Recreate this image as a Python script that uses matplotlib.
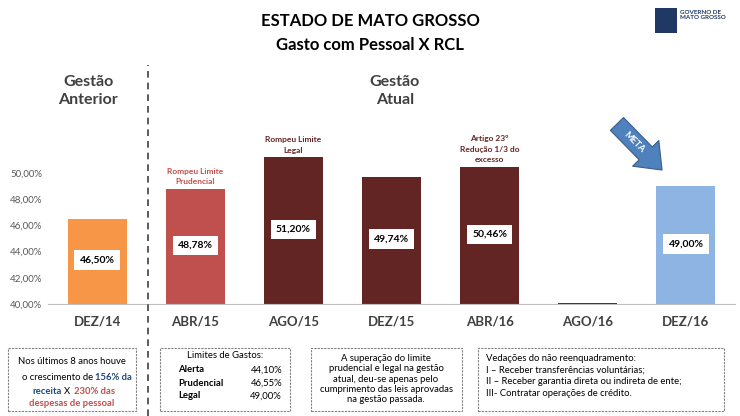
import matplotlib
matplotlib.use("Agg")
import matplotlib.pyplot as plt
from matplotlib.patches import Rectangle, FancyArrowPatch
import numpy as np

categories = ["DEZ/14", "ABR/15", "AGO/15", "DEZ/15", "ABR/16", "AGO/16", "DEZ/16"]
values = [46.50, 48.78, 51.20, 49.74, 50.46, 40.06, 49.00]
value_labels = ["46,50%", "48,78%", "51,20%", "49,74%", "50,46%", None, "49,00%"]
colors = ["#F79646", "#C0504D", "#632523", "#632523", "#632523", "#1F3864", "#8DB4E2"]
notes = {1: "Rompeu Limite\nPrudencial", 2: "Rompeu Limite\nLegal", 4: "Artigo 23º\nRedução 1/3 do\nexcesso"}
yticks = [40, 42, 44, 46, 48, 50]

plt.rcParams["font.family"] = "Lato"
W, H = 740, 416
fig = plt.figure(figsize=(W/100, H/100), dpi=100)
fig.patch.set_facecolor("white")
ax = fig.add_axes([48/W, 1-304/H, (735-48)/W, 157/H])
x = np.arange(len(categories))
ax.bar(x, [v-40 for v in values], bottom=40, width=0.6, color=colors)
ax.set_ylim(40, 52)
ax.set_xlim(-0.5, len(categories)-0.5)
ax.set_yticks(yticks)
ax.set_yticklabels([f"{t:.2f}%".replace(".", ",") for t in yticks], fontsize=7, color="#595959")
ax.set_xticks(x)
ax.set_xticklabels(categories, fontsize=9.5, fontweight="bold", color="#404040")
ax.tick_params(length=0, pad=8)
ax.tick_params(axis="y", pad=4)
for s in ["top", "right", "left"]:
    ax.spines[s].set_visible(False)
ax.spines["bottom"].set_color("#BFBFBF")
for i, (v, l) in enumerate(zip(values, value_labels)):
    if l:
        ax.text(i, 40+(v-40)/2+0.1, l, ha="center", va="center", fontsize=7.5, fontweight="bold",
                bbox=dict(boxstyle="square,pad=0.5", fc="white", ec="none"))
for i, t in notes.items():
    c = "#C0504D" if i == 1 else "#632523"
    ax.text(i, values[i]+0.3, t, ha="center", va="bottom", fontsize=6, fontweight="bold",
            color=c, linespacing=1.6)

fig.text(0.5, 1-21/H, "ESTADO DE MATO GROSSO", ha="center", va="center", fontsize=12, fontweight="bold")
fig.text(0.5, 1-45/H, "Gasto com Pessoal X RCL", ha="center", va="center", fontsize=12, fontweight="bold")
fig.text(88/W, 1-91/H, "Gestão\nAnterior", ha="center", va="center", fontsize=11.5, fontweight="bold", color="#404040", linespacing=1.3)
fig.text(395/W, 1-91/H, "Gestão\nAtual", ha="center", va="center", fontsize=11.5, fontweight="bold", color="#404040", linespacing=1.3)
fig.add_artist(plt.Line2D([148/W, 148/W], [0, 1-65/H], color="#404040", lw=1.2, ls=(0, (4, 3))))

# logo
fig.add_artist(Rectangle((655/W, 1-33/H), 22/W, 25/H, fc="#1F3864", ec="none"))
fig.text(680/W, 1-15/H, "GOVERNO DE\nMATO GROSSO", fontsize=4.5, color="#1F3864", fontweight="bold", va="center")

# META arrow
arr = FancyArrowPatch((615/W, 1-122/H), (664/W, 1-172/H), transform=fig.transFigure,
                      arrowstyle="simple,head_width=2.2,head_length=1.4,tail_width=1.1",
                      mutation_scale=12, fc="#4F81BD", ec="#385D8A", lw=0.8)
fig.add_artist(arr)
fig.text(634/W, 1-142/H, "META", rotation=-45, ha="center", va="center", fontsize=6.5, fontweight="bold", color="white")

def box(x0, x1):
    fig.add_artist(Rectangle((x0/W, 1-411/H), (x1-x0)/W, 63/H, fc="white", ec="#808080", lw=0.8, ls=(0, (2, 1))))
box(8, 136); box(160, 290); box(311, 462); box(478, 724)

fs = 6.8
fig.text(72/W, 1-362/H, "Nos últimos 8 anos houve", ha="center", va="center", fontsize=fs)
fig.text(95/W, 1-377/H, "o crescimento de ", ha="right", va="center", fontsize=fs)
fig.text(95/W, 1-377/H, "156% da", ha="left", va="center", fontsize=fs, color="#1F497D", fontweight="bold")
fig.text(62/W, 1-391/H, "receita", ha="right", va="center", fontsize=fs, color="#1F497D", fontweight="bold")
fig.text(64/W, 1-391/H, "X", ha="left", va="center", fontsize=fs)
fig.text(74/W, 1-391/H, "230% das", ha="left", va="center", fontsize=fs, color="#C0504D", fontweight="bold")
fig.text(72/W, 1-404/H, "despesas de pessoal", ha="center", va="center", fontsize=fs, color="#C0504D", fontweight="bold")

fig.text(225/W, 1-356/H, "Limites de Gastos:", ha="center", va="center", fontsize=fs)
for k, (n, v) in enumerate([("Alerta", "44,10%"), ("Prudencial", "46,55%"), ("Legal", "49,00%")]):
    yy = 1-(370+k*13)/H
    fig.text(178/W, yy, n, va="center", fontsize=fs, fontweight="bold")
    fig.text(282/W, yy, v, va="center", ha="right", fontsize=fs)

fig.text(386/W, 1-379/H, "A superação do limite\nprudencial e legal na gestão\natual, deu-se apenas pelo\ncumprimento das leis aprovadas\nna gestão passada.",
         ha="center", va="center", fontsize=fs, linespacing=1.2)
fig.text(486/W, 1-376/H, "Vedações do não reenquadramento:\nI – Receber transferências voluntárias;\nII – Receber garantia direta ou indireta de ente;\nIII- Contratar operações de crédito.",
         ha="left", va="center", fontsize=fs, linespacing=1.4)

fig.savefig("out.png", dpi=100)
